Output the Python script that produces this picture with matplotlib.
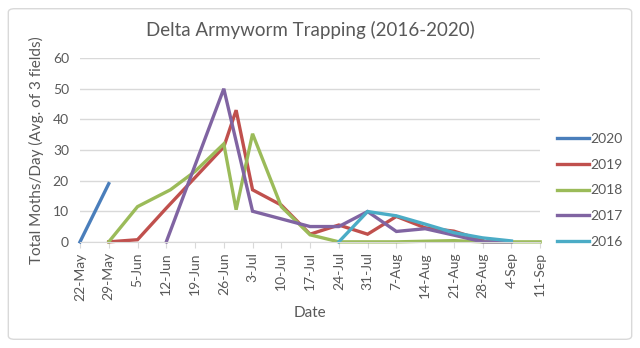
import matplotlib.pyplot as plt
import matplotlib.dates as mdates
import numpy as np
from matplotlib.patches import FancyBboxPatch

plt.rcParams['font.family'] = ['Lato', 'DejaVu Sans']

# data (day-month, moths/day)
d2020 = ['2020-05-22', '2020-05-29']
v2020 = [0, 19]

d2019 = ['2020-05-29', '2020-06-05', '2020-06-12', '2020-06-19', '2020-06-26', '2020-06-29',
         '2020-07-03', '2020-07-10', '2020-07-17', '2020-07-24', '2020-07-31', '2020-08-07',
         '2020-08-14', '2020-08-21', '2020-08-28']
v2019 = [0, 0.7, 11, 21, 31, 43, 17, 12, 2.5, 5.5, 2.5, 8.3, 4.6, 3.5, 0.5]

d2018 = ['2020-05-29', '2020-06-05', '2020-06-13', '2020-06-19', '2020-06-26', '2020-06-29',
         '2020-07-03', '2020-07-10', '2020-07-17', '2020-07-24', '2020-07-31', '2020-08-07',
         '2020-08-14', '2020-08-21', '2020-08-28', '2020-09-04', '2020-09-11']
v2018 = [0, 11.5, 17, 23, 32, 10.5, 35.3, 11.5, 2.3, 0, 0, 0, 0.2, 0.4, 0, 0, 0]

d2017 = ['2020-06-12', '2020-06-26', '2020-07-03', '2020-07-10', '2020-07-17', '2020-07-24',
         '2020-07-31', '2020-08-07', '2020-08-14', '2020-08-21', '2020-08-28', '2020-09-04']
v2017 = [0, 50, 10, 7.5, 5, 5, 9.9, 3.4, 4.3, 2.2, 0, 0]

d2016 = ['2020-07-24', '2020-07-31', '2020-08-07', '2020-08-14', '2020-08-21', '2020-08-28',
         '2020-09-04']
v2016 = [0, 9.9, 8.5, 5.8, 3, 1.3, 0.3]

tickDates = ['2020-05-22', '2020-05-29', '2020-06-05', '2020-06-12', '2020-06-19', '2020-06-26',
             '2020-07-03', '2020-07-10', '2020-07-17', '2020-07-24', '2020-07-31', '2020-08-07',
             '2020-08-14', '2020-08-21', '2020-08-28', '2020-09-04', '2020-09-11']
tickLabels = ['22-May', '29-May', '5-Jun', '12-Jun', '19-Jun', '26-Jun', '3-Jul', '10-Jul',
              '17-Jul', '24-Jul', '31-Jul', '7-Aug', '14-Aug', '21-Aug', '28-Aug', '4-Sep', '11-Sep']

series = [('2020', d2020, v2020, '#4A7EBB'),
          ('2019', d2019, v2019, '#C0504D'),
          ('2018', d2018, v2018, '#9BBB59'),
          ('2017', d2017, v2017, '#8064A2'),
          ('2016', d2016, v2016, '#4BACC6')]

textCol = '#595959'

fig = plt.figure(figsize=(6.4, 3.48), dpi=100)
fig.patches.append(FancyBboxPatch((0.013, 0.025), 0.974, 0.95, boxstyle='round,pad=0,rounding_size=0.01',
                                  transform=fig.transFigure, fill=False, edgecolor='#D9D9D9', linewidth=1))
ax = fig.add_axes([0.125, 0.305, 0.719, 0.528])

for name, d, v, c in series:
    ax.plot(np.array(d, dtype='datetime64[D]'), v, color=c, linewidth=2.4, label=name,
            solid_joinstyle='miter', clip_on=False)

ax.set_xlim(np.datetime64('2020-05-22'), np.datetime64('2020-09-11'))
ax.set_ylim(0, 60)
ax.set_yticks(range(0, 61, 10))
ax.set_xticks(np.array(tickDates, dtype='datetime64[D]'))
ax.set_xticklabels(tickLabels, rotation=90)
ax.grid(axis='y', color='#D9D9D9', linewidth=1)
ax.set_axisbelow(True)
for s in ['top', 'right', 'left']:
    ax.spines[s].set_visible(False)
ax.spines['bottom'].set_color('#D9D9D9')
ax.tick_params(axis='y', length=0, colors=textCol, labelsize=10, pad=8)
ax.tick_params(axis='x', length=4, color='#D9D9D9', colors=textCol, labelsize=10)

ax.set_title('Delta Armyworm Trapping (2016-2020)', color=textCol, fontsize=13.5, pad=16)
ax.set_xlabel('Date', color=textCol, fontsize=11)
ax.set_ylabel('Total Moths/Day (Avg. of 3 fields)', color=textCol, fontsize=11, labelpad=6)

leg = ax.legend(loc='center left', bbox_to_anchor=(1.01, 0.28), frameon=False, fontsize=10,
                handlelength=2.3, handletextpad=0.1, labelspacing=0.98, labelcolor=textCol)

plt.savefig('out.png', dpi=100)
